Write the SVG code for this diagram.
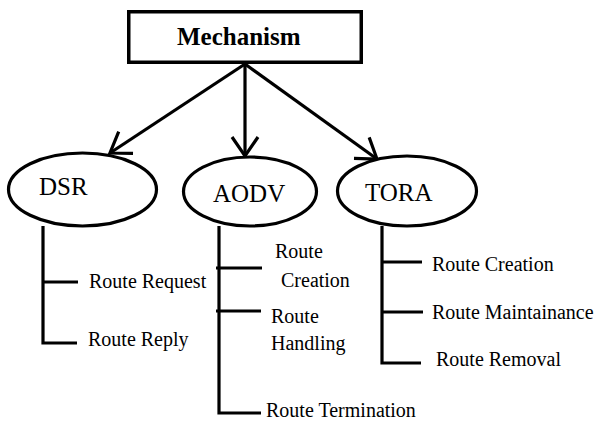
<svg xmlns="http://www.w3.org/2000/svg" width="595" height="421" viewBox="0 0 595 421">
<style>
.box{fill:#fff;stroke:#000;stroke-width:3.5}
.oval{fill:#fff;stroke:#000;stroke-width:3.2}
.ln{fill:none;stroke:#000;stroke-width:3.2;stroke-linecap:butt}
.t{font-family:"Liberation Serif","Times New Roman",serif;fill:#000}
.title{font-size:25px;font-weight:bold}
.nl{font-size:25px}
.sl{font-size:20px}
</style>
<defs>
<marker id="ah" markerUnits="userSpaceOnUse" markerWidth="40" markerHeight="40" viewBox="-30 -20 40 40" refX="0" refY="0" orient="auto">
<path d="M-19,-13 L0,0 L-19,13" fill="none" stroke="#000" stroke-width="3.2"/>
</marker>
</defs>
<rect width="595" height="421" fill="#fff"/>
<g id="connectors">
<line class="ln" x1="245" y1="64" x2="110" y2="153" marker-end="url(#ah)"/>
<line class="ln" x1="245" y1="64" x2="245" y2="156" marker-end="url(#ah)"/>
<line class="ln" x1="245" y1="64" x2="377" y2="159" marker-end="url(#ah)"/>
<polyline class="ln" points="43,226 43,343 77,343"/>
<line class="ln" x1="43" y1="282" x2="78" y2="282"/>
<polyline class="ln" points="219,226 219,413 261,413"/>
<line class="ln" x1="216" y1="268" x2="262" y2="268"/>
<line class="ln" x1="216" y1="311" x2="261" y2="311"/>
<polyline class="ln" points="382,226 382,363 421,363"/>
<line class="ln" x1="382" y1="262" x2="422" y2="262"/>
<line class="ln" x1="382" y1="312" x2="423" y2="312"/>
</g>
<g id="mechanism">
<rect class="box" x="128.75" y="11.75" width="232.5" height="50.5"/>
<text class="t title" x="177" y="45">Mechanism</text>
</g>
<g id="dsr">
<ellipse class="oval" cx="82.5" cy="189.5" rx="74" ry="36.5"/>
<text class="t nl" x="39" y="195">DSR</text>
</g>
<g id="aodv">
<ellipse class="oval" cx="250" cy="191.5" rx="66.5" ry="34.5"/>
<text class="t nl" x="213" y="202">AODV</text>
</g>
<g id="tora">
<ellipse class="oval" cx="407" cy="191" rx="69.5" ry="35"/>
<text class="t nl" x="365" y="201">TORA</text>
</g>
<g id="dsr-items">
<text class="t sl" x="89" y="288">Route Request</text>
<text class="t sl" x="88" y="346">Route Reply</text>
</g>
<g id="aodv-items">
<text class="t sl" x="275" y="258">Route</text>
<text class="t sl" x="281" y="287">Creation</text>
<text class="t sl" x="271" y="323">Route</text>
<text class="t sl" x="271" y="350">Handling</text>
<text class="t sl" x="266" y="417">Route Termination</text>
</g>
<g id="tora-items">
<text class="t sl" x="432" y="271">Route Creation</text>
<text class="t sl" x="432" y="319">Route Maintainance</text>
<text class="t sl" x="436" y="366">Route Removal</text>
</g>
</svg>
